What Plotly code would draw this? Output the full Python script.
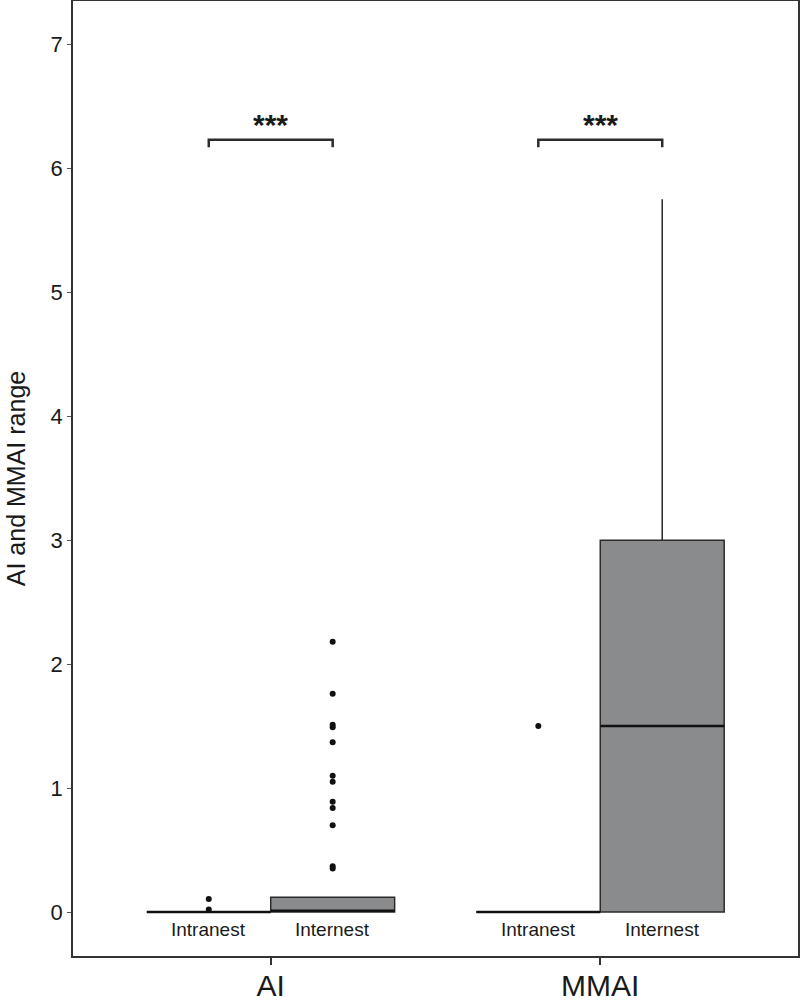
import plotly.graph_objects as go

categories = ["AI", "MMAI"]
groups = ["Intranest", "Internest"]

# precomputed box statistics per group, per category
q1 = {"Intranest": [0.0, 0.0], "Internest": [0.0, 0.0]}
median = {"Intranest": [0.0, 0.0], "Internest": [0.01, 1.5]}
q3 = {"Intranest": [0.0, 0.0], "Internest": [0.12, 3.0]}
lowerfence = {"Intranest": [0.0, 0.0], "Internest": [0.0, 0.0]}
upperfence = {"Intranest": [0.0, 0.0], "Internest": [0.12, 5.75]}
outliers = {
    "Intranest": [[0.02, 0.105], [1.5]],
    "Internest": [[0.35, 0.37, 0.70, 0.84, 0.89, 1.05, 1.10, 1.37, 1.49, 1.51, 1.76, 2.18], []],
}

sig_labels = ["***", "***"]
bracket_low = 6.17
bracket_high = 6.23
star_y = 6.35

box_fill = "#8a8b8d"
line_col = "#2b2b2b"
font_family = "Liberation Sans, Arial, sans-serif"
boxgap = 0.248

fig = go.Figure()
for g in groups:
    fig.add_trace(go.Box(
        name=g,
        x=categories,
        q1=q1[g], median=median[g], q3=q3[g],
        lowerfence=lowerfence[g], upperfence=upperfence[g],
        y=outliers[g],
        boxpoints="outliers",
        jitter=0, pointpos=0,
        fillcolor=box_fill,
        line=dict(color=line_col, width=1.5),
        whiskerwidth=0,
        marker=dict(color="#111111", size=6, line=dict(width=0)),
        showlegend=False,
        hoverinfo="skip",
    ))

half = (1 - boxgap) / 4
shapes = []
annotations = []
for i, cat in enumerate(categories):
    x0 = i - half
    x1 = i + half
    shapes.append(dict(type="path", xref="x", yref="y",
                       path=f"M {x0},{bracket_low} L {x0},{bracket_high} L {x1},{bracket_high} L {x1},{bracket_low}",
                       line=dict(color=line_col, width=2.5)))
    annotations.append(dict(x=i, y=star_y, xref="x", yref="y", text=f"<b>{sig_labels[i]}</b>",
                            showarrow=False, font=dict(size=30, color="#1a1a1a", family=font_family)))
    for gi, g in enumerate(groups):
        left = i - 2 * half if gi == 0 else i
        # thicker median line, as in the reference
        shapes.append(dict(type="line", xref="x", yref="y",
                           x0=left, x1=left + 2 * half, y0=median[g][i], y1=median[g][i],
                           line=dict(color="#111111", width=2.5)))
        annotations.append(dict(x=left + half, y=-0.145, xref="x", yref="y", text=g, showarrow=False,
                                font=dict(size=19, color="#1a1a1a", family=font_family)))

fig.update_layout(
    width=800, height=1006,
    margin=dict(l=73, r=2, t=1, b=50),
    paper_bgcolor="white", plot_bgcolor="white",
    boxmode="group", boxgap=boxgap, boxgroupgap=0,
    shapes=shapes, annotations=annotations,
    font=dict(family=font_family, color="#1a1a1a"),
)
fig.update_xaxes(
    type="category", range=[-0.6, 1.6],
    showline=True, linecolor="#333333", linewidth=1.5, mirror=True,
    ticks="outside", ticklen=7, tickcolor="#333333", tickwidth=1.5,
    tickfont=dict(size=30, color="#1a1a1a"), ticklabelstandoff=-5,
    showgrid=False, zeroline=False, automargin=False,
)
fig.update_yaxes(
    range=[-0.355, 7.35],
    tickmode="array", tickvals=[0, 1, 2, 3, 4, 5, 6, 7],
    showline=True, linecolor="#333333", linewidth=1.5, mirror=True,
    ticks="outside", ticklen=4, tickcolor="#555555", tickwidth=1,
    tickfont=dict(size=22, color="#1a1a1a"),
    title=dict(text="AI and MMAI range", font=dict(size=25, color="#1a1a1a"), standoff=18),
    showgrid=False, zeroline=False, automargin=False,
)

fig.write_html("out.html", config={"displayModeBar": False},
               post_script="document.body.style.margin='0';")
